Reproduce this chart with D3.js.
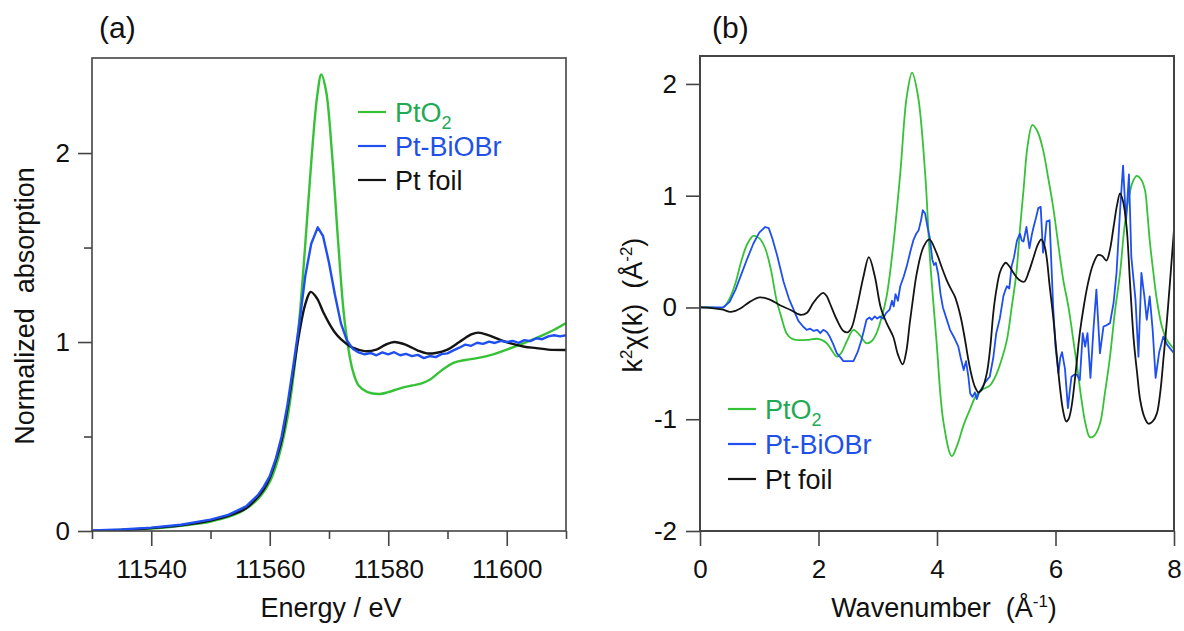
<!DOCTYPE html>
<html>
<head>
<meta charset="utf-8">
<script src="https://cdn.jsdelivr.net/npm/d3@7"></script>
<style>
  html, body { margin: 0; padding: 0; background: #fff; }
  svg { display: block; font-family: "Liberation Sans", Arial, sans-serif; }
</style>
</head>
<body>
<svg id="chart" width="1184" height="631"></svg>
<script>
// ---------------- DATA ----------------
const seriesNames = ["PtO", "Pt-BiOBr", "Pt foil"];

// Panel (a): XANES, [energy (eV), normalized absorption]
const xanesPtO2 = [
  [11530,0.0],[11540,0.013],[11545,0.028],[11550,0.05],[11555,0.1],[11558,0.17],[11560,0.26],[11561,0.34],
  [11562,0.45],[11563,0.6],[11564,0.82],[11565,1.12],[11566,1.52],[11567,1.95],[11568,2.3],[11568.7,2.416],
  [11569.5,2.33],[11570.5,2.0],[11571.5,1.55],[11572.5,1.15],[11573.3,0.96],[11574,0.85],[11575,0.77],
  [11576.5,0.735],[11578.6,0.725],[11580,0.735],[11582,0.755],[11584,0.77],[11585.5,0.78],[11587,0.8],
  [11589,0.85],[11591,0.89],[11593,0.905],[11595,0.915],[11597.7,0.935],[11600,0.96],[11603,0.995],
  [11606,1.035],[11608,1.065],[11610,1.1]
];
const xanesPtBiOBr = [
  [11530,0.003],[11535,0.008],[11540,0.018],[11545,0.033],[11550,0.06],[11553,0.085],[11556,0.13],[11558,0.19],
  [11559,0.235],[11560,0.29],[11561,0.38],[11562,0.5],[11563,0.67],[11564,0.88],[11565,1.1],[11566,1.35],
  [11567,1.52],[11568.1,1.607],[11569,1.56],[11570,1.42],[11571,1.25],[11572,1.1],[11573,1.01],[11574,0.965],
  [11575,0.945],[11576,0.935],[11577,0.942],[11578,0.93],[11579,0.945],[11580,0.935],[11581,0.946],[11582,0.93],
  [11583,0.937],[11584,0.925],[11585,0.932],[11586,0.915],[11587,0.926],[11588,0.92],[11589,0.936],[11590,0.94],
  [11591,0.956],[11592,0.97],[11593,0.986],[11594,0.98],[11595,0.996],[11596,0.99],[11597,1.002],[11598,0.995],
  [11599,1.006],[11600,1.0],[11601,1.006],[11602,0.996],[11603,1.01],[11604,1.005],[11605,1.02],[11606,1.015],
  [11607,1.03],[11608,1.036],[11609,1.03],[11610,1.036]
];
const xanesPtFoil = [
  [11530,0.0],[11535,0.005],[11540,0.015],[11545,0.03],[11550,0.055],[11553,0.08],[11556,0.12],[11558,0.18],
  [11559,0.22],[11560,0.28],[11561,0.37],[11562,0.48],[11563,0.65],[11564,0.85],[11565,1.05],[11566,1.2],
  [11566.9,1.265],[11568,1.23],[11569,1.16],[11570,1.1],[11571,1.05],[11572,1.015],[11573,0.99],[11574,0.97],
  [11576,0.952],[11578,0.96],[11579.5,0.985],[11581,1.0],[11583,0.985],[11585,0.955],[11586.5,0.94],
  [11588,0.942],[11590,0.96],[11592,1.0],[11594,1.04],[11595.2,1.05],[11597,1.035],[11599,1.01],[11601,0.99],
  [11603,0.975],[11605,0.968],[11607,0.96],[11610,0.958]
];

// Panel (b): EXAFS, [k (1/Å), k^2 chi(k)]
const exafsPtO2 = [
  [0,0],[0.2,0],[0.39,0.0],[0.5,0.08],[0.6,0.22],[0.7,0.42],[0.8,0.57],[0.9,0.64],[1.0,0.62],[1.1,0.53],
  [1.2,0.33],[1.29,0.07],[1.38,-0.1],[1.46,-0.23],[1.55,-0.28],[1.63,-0.29],[1.8,-0.29],[1.97,-0.28],
  [2.05,-0.29],[2.14,-0.32],[2.22,-0.38],[2.31,-0.44],[2.38,-0.41],[2.48,-0.3],[2.59,-0.2],[2.7,-0.25],
  [2.81,-0.32],[2.9,-0.3],[2.98,-0.23],[3.07,-0.08],[3.15,0.1],[3.25,0.5],[3.38,1.2],[3.49,1.89],[3.58,2.1],
  [3.68,1.89],[3.8,1.2],[3.88,0.45],[3.99,-0.29],[4.11,-1.03],[4.25,-1.33],[4.35,-1.22],[4.45,-1.05],
  [4.55,-0.92],[4.67,-0.78],[4.78,-0.73],[4.89,-0.7],[5.0,-0.6],[5.1,-0.45],[5.18,-0.29],[5.26,0.0],
  [5.34,0.31],[5.4,0.7],[5.46,1.05],[5.53,1.45],[5.61,1.633],[5.7,1.57],[5.79,1.41],[5.88,1.15],[5.96,0.9],
  [6.05,0.55],[6.13,0.25],[6.22,0.0],[6.3,-0.29],[6.37,-0.55],[6.44,-0.83],[6.51,-1.05],[6.58,-1.16],
  [6.65,-1.15],[6.75,-1.04],[6.83,-0.78],[6.92,-0.44],[7.0,-0.05],[7.09,0.31],[7.16,0.7],[7.23,0.96],
  [7.3,1.12],[7.37,1.177],[7.44,1.15],[7.51,1.05],[7.55,0.85],[7.59,0.6],[7.65,0.32],[7.71,0.07],
  [7.8,-0.18],[7.88,-0.29],[7.95,-0.34],[8.0,-0.37]
];
const exafsPtBiOBr = [
  [0,0],[0.2,0],[0.39,0.0],[0.5,0.05],[0.6,0.16],[0.7,0.3],[0.8,0.44],[0.9,0.57],[1.0,0.67],[1.1,0.72],
  [1.16,0.71],[1.22,0.62],[1.3,0.47],[1.41,0.23],[1.5,0.08],[1.58,-0.02],[1.66,-0.12],[1.74,-0.17],[1.8,-0.2],
  [1.86,-0.19],[1.92,-0.21],[1.98,-0.2],[2.03,-0.23],[2.08,-0.2],[2.14,-0.22],[2.19,-0.26],[2.25,-0.33],
  [2.31,-0.41],[2.36,-0.44],[2.42,-0.48],[2.5,-0.48],[2.59,-0.48],[2.66,-0.4],[2.72,-0.3],[2.76,-0.22],
  [2.81,-0.11],[2.86,-0.09],[2.9,-0.11],[2.95,-0.08],[2.99,-0.1],[3.04,-0.08],[3.09,-0.1],[3.14,-0.05],
  [3.2,-0.02],[3.24,0.06],[3.27,0.01],[3.3,0.12],[3.34,0.06],[3.38,0.19],[3.44,0.28],[3.49,0.37],[3.55,0.5],
  [3.6,0.6],[3.65,0.66],[3.69,0.69],[3.73,0.78],[3.76,0.87],[3.8,0.84],[3.84,0.72],[3.88,0.62],[3.92,0.43],
  [3.95,0.38],[3.98,0.4],[4.02,0.3],[4.06,0.12],[4.1,0.0],[4.16,-0.1],[4.22,-0.2],[4.3,-0.28],[4.36,-0.35],
  [4.4,-0.45],[4.45,-0.56],[4.49,-0.48],[4.53,-0.62],[4.56,-0.77],[4.6,-0.8],[4.64,-0.76],[4.67,-0.82],
  [4.71,-0.76],[4.76,-0.72],[4.8,-0.68],[4.84,-0.65],[4.89,-0.62],[4.95,-0.45],[5.0,-0.23],[5.06,-0.1],
  [5.12,0.1],[5.15,0.15],[5.18,0.19],[5.22,0.17],[5.26,0.37],[5.3,0.45],[5.35,0.6],[5.4,0.66],[5.43,0.6],
  [5.46,0.59],[5.51,0.72],[5.56,0.53],[5.6,0.65],[5.63,0.72],[5.67,0.8],[5.71,0.89],[5.75,0.9],[5.79,0.49],
  [5.82,0.6],[5.85,0.77],[5.9,0.78],[5.96,0.01],[6.0,-0.35],[6.05,-0.59],[6.08,-0.45],[6.11,-0.4],
  [6.16,-0.55],[6.21,-0.9],[6.24,-0.75],[6.27,-0.62],[6.32,-0.6],[6.36,-0.6],[6.41,-0.65],[6.46,-0.23],
  [6.5,-0.35],[6.54,-0.23],[6.59,-0.63],[6.64,-0.2],[6.69,0.16],[6.75,-0.41],[6.81,-0.17],[6.86,-0.16],
  [6.92,-0.14],[6.98,0.04],[7.03,0.31],[7.09,0.87],[7.14,1.27],[7.19,0.77],[7.24,1.19],[7.28,0.45],
  [7.35,0.07],[7.4,-0.44],[7.45,0.31],[7.5,0.1],[7.54,-0.11],[7.59,0.1],[7.64,-0.2],[7.69,-0.63],
  [7.75,-0.4],[7.82,-0.26],[7.88,-0.33],[7.94,-0.37],[8.0,-0.41]
];
const exafsPtFoil = [
  [0,0],[0.2,-0.005],[0.39,-0.02],[0.51,-0.04],[0.6,-0.03],[0.68,-0.01],[0.84,0.05],[1.01,0.09],[1.18,0.07],
  [1.35,0.02],[1.52,-0.02],[1.69,-0.065],[1.8,-0.05],[1.91,0.04],[2.0,0.1],[2.08,0.13],[2.14,0.1],[2.19,0.04],
  [2.31,-0.11],[2.42,-0.21],[2.5,-0.22],[2.56,-0.18],[2.64,-0.02],[2.76,0.28],[2.85,0.45],[2.95,0.28],
  [3.05,0.0],[3.15,-0.14],[3.26,-0.26],[3.34,-0.42],[3.42,-0.51],[3.48,-0.4],[3.54,-0.14],[3.6,0.1],
  [3.66,0.31],[3.77,0.54],[3.87,0.61],[3.99,0.49],[4.08,0.36],[4.16,0.25],[4.23,0.17],[4.3,0.1],[4.36,0.0],
  [4.41,-0.11],[4.47,-0.28],[4.53,-0.47],[4.58,-0.6],[4.64,-0.71],[4.7,-0.76],[4.76,-0.73],[4.84,-0.59],
  [4.9,-0.35],[4.95,-0.05],[5.0,0.15],[5.06,0.31],[5.12,0.38],[5.16,0.4],[5.22,0.37],[5.29,0.31],
  [5.38,0.25],[5.47,0.23],[5.55,0.32],[5.63,0.45],[5.7,0.56],[5.76,0.61],[5.81,0.56],[5.85,0.45],
  [5.9,0.2],[5.96,-0.08],[6.02,-0.42],[6.08,-0.74],[6.13,-0.93],[6.18,-1.02],[6.22,-1.0],[6.27,-0.89],
  [6.34,-0.58],[6.41,-0.23],[6.48,0.02],[6.55,0.22],[6.63,0.38],[6.72,0.47],[6.79,0.46],[6.86,0.42],
  [6.92,0.52],[6.98,0.72],[7.04,0.92],[7.09,1.02],[7.14,0.95],[7.2,0.72],[7.26,0.2],[7.32,-0.29],
  [7.38,-0.6],[7.43,-0.83],[7.5,-0.98],[7.57,-1.04],[7.64,-1.02],[7.71,-0.95],[7.77,-0.75],[7.82,-0.47],
  [7.87,-0.18],[7.9,0.01],[7.95,0.35],[8.0,0.7]
];

// Tick values
const xanesXTicks = [11540, 11560, 11580, 11600];
const xanesXMinor = [11530, 11550, 11570, 11590, 11610];
const xanesYTicks = [0, 1, 2];
const xanesYMinor = [0.5, 1.5];
const exafsXTicks = [0, 2, 4, 6, 8];
const exafsYTicks = [-2, -1, 0, 1, 2];

// ---------------- STYLE ----------------
const lineColors = ["#36c236", "#1f4ff0", "#141414"];
const textColors = ["#22a955", "#2150e6", "#111111"];
const axisColor = "#444";
const FS = 26;     // tick labels
const TFS = 27;    // axis titles

const svg = d3.select("#chart");

function panel(opts) {
  const { left, right, top, bottom, xDomain, yDomain } = opts;
  const x = d3.scaleLinear().domain(xDomain).range([left, right]);
  const y = d3.scaleLinear().domain(yDomain).range([bottom, top]);
  const g = svg.append("g");

  // curves
  const clipId = "clip" + opts.id;
  svg.append("clipPath").attr("id", clipId).append("rect")
    .attr("x", left).attr("y", top).attr("width", right - left).attr("height", bottom - top);
  const cg = g.append("g").attr("clip-path", `url(#${clipId})`);
  opts.series.forEach(s => {
    const line = d3.line().x(d => x(d[0])).y(d => y(d[1])).curve(s.curve);
    cg.append("path").datum(s.data).attr("d", line)
      .attr("fill", "none").attr("stroke", s.color).attr("stroke-width", opts.lw)
      .attr("stroke-linejoin", "round");
  });

  // axes
  g.append("g").attr("transform", `translate(0,${bottom})`)
    .call(d3.axisBottom(x).tickValues(opts.xTicks).tickSize(15).tickPadding(14).tickSizeOuter(0)
      .tickFormat(d3.format("d")));
  g.append("g").attr("transform", `translate(${left},0)`)
    .call(d3.axisLeft(y).tickValues(opts.yTicks).tickSize(14).tickPadding(opts.ypad).tickSizeOuter(0)
      .tickFormat(d => d < 0 ? "-" + Math.abs(d) : d));
  if (opts.xMinor) {
    g.append("g").attr("transform", `translate(0,${bottom})`)
      .call(d3.axisBottom(x).tickValues(opts.xMinor).tickSize(8).tickFormat("").tickSizeOuter(0));
  }
  if (opts.yMinor) {
    g.append("g").attr("transform", `translate(${left},0)`)
      .call(d3.axisLeft(y).tickValues(opts.yMinor).tickSize(8).tickFormat("").tickSizeOuter(0));
  }
  g.selectAll(".domain").remove();
  g.selectAll(".tick line").attr("stroke", axisColor).attr("stroke-width", 1.6);
  g.selectAll(".tick text").attr("font-size", FS).attr("fill", "#111")
    .attr("font-family", "Liberation Sans, Arial, sans-serif");

  // frame
  g.append("rect").attr("x", left).attr("y", top).attr("width", right - left).attr("height", bottom - top)
    .attr("fill", "none").attr("stroke", axisColor).attr("stroke-width", opts.fw);

  // legend
  const lg = g.append("g");
  seriesNames.forEach((name, i) => {
    const yy = opts.legY + i * opts.legDy;
    lg.append("line").attr("x1", opts.legX).attr("x2", opts.legX + 28).attr("y1", yy).attr("y2", yy)
      .attr("stroke", lineColors[i]).attr("stroke-width", 2.2);
    const t = lg.append("text").attr("x", opts.legX + 37).attr("y", yy).attr("dy", "0.36em")
      .attr("font-size", 27).attr("fill", textColors[i]).text(name);
    if (i === 0) t.append("tspan").attr("font-size", 18).attr("dy", "0.42em").text("2");
  });
  return { x, y, g };
}

// Panel (a)
panel({
  id: "a", left: 92, right: 566, top: 58, bottom: 531,
  xDomain: [11530, 11610], yDomain: [0, 2.503],
  xTicks: xanesXTicks, xMinor: xanesXMinor, yTicks: xanesYTicks, yMinor: xanesYMinor,
  ypad: 8, lw: 2.4, fw: 1.6,
  series: [
    { data: xanesPtO2, color: lineColors[0], curve: d3.curveCatmullRom },
    { data: xanesPtFoil, color: lineColors[2], curve: d3.curveCatmullRom },
    { data: xanesPtBiOBr, color: lineColors[1], curve: d3.curveLinear }
  ],
  legX: 358, legY: 112, legDy: 34
});

// Panel (b)
panel({
  id: "b", left: 700, right: 1174, top: 56, bottom: 531,
  xDomain: [0, 8], yDomain: [-2, 2.25],
  xTicks: exafsXTicks, yTicks: exafsYTicks,
  ypad: 9, lw: 1.8, fw: 2,
  series: [
    { data: exafsPtO2, color: lineColors[0], curve: d3.curveCatmullRom },
    { data: exafsPtBiOBr, color: lineColors[1], curve: d3.curveLinear },
    { data: exafsPtFoil, color: lineColors[2], curve: d3.curveCatmullRom }
  ],
  legX: 728, legY: 409, legDy: 35
});

// Panel labels
svg.append("text").attr("x", 99).attr("y", 38).attr("font-size", 30).attr("fill", "#111").text("(a)");
svg.append("text").attr("x", 712).attr("y", 38).attr("font-size", 30).attr("fill", "#111").text("(b)");

// Axis titles
svg.append("text").attr("x", 331).attr("y", 617).attr("text-anchor", "middle")
  .attr("font-size", TFS).attr("fill", "#111").attr("xml:space", "preserve").text("Energy / eV");
const wt = svg.append("text").attr("x", 944).attr("y", 617).attr("text-anchor", "middle")
  .attr("font-size", TFS).attr("fill", "#111").attr("xml:space", "preserve");
wt.append("tspan").text("Wavenumber  (Å");
wt.append("tspan").attr("font-size", 17).attr("dy", "-0.6em").text("-1");
wt.append("tspan").attr("dy", "0.38em").text(")");

svg.append("text").attr("transform", "translate(34,306) rotate(-90)").attr("text-anchor", "middle")
  .attr("font-size", TFS).attr("fill", "#111").attr("xml:space", "preserve").text("Normalized  absorption");

const yt = svg.append("text").attr("transform", "translate(642,305) rotate(-90)").attr("text-anchor", "middle")
  .attr("font-size", TFS).attr("fill", "#111").attr("xml:space", "preserve");
yt.append("tspan").text("k");
yt.append("tspan").attr("font-size", 17).attr("dy", "-0.6em").text("2");
yt.append("tspan").attr("dy", "0.38em").text("χ(k)  (Å");
yt.append("tspan").attr("font-size", 17).attr("dy", "-0.6em").text("-2");
yt.append("tspan").attr("dy", "0.38em").text(")");
</script>
</body>
</html>
